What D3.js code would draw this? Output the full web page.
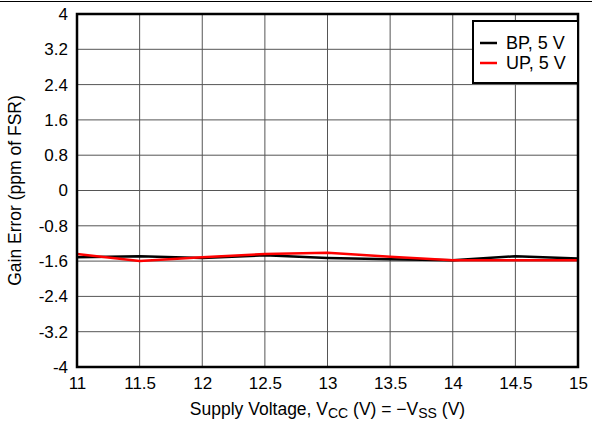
<!DOCTYPE html>
<html><head><meta charset="utf-8">
<script src="https://cdn.jsdelivr.net/npm/d3@7"></script>
<style>body{margin:0;background:#fff}svg{display:block}text{font-family:"Liberation Sans",Arial,sans-serif;fill:#000}</style>
</head><body>
<script>
const supply = [11, 11.5, 12, 12.5, 13, 13.5, 14, 14.5, 15];
const bp5 = [-1.51, -1.49, -1.53, -1.47, -1.53, -1.56, -1.58, -1.49, -1.54];
const up5 = [-1.44, -1.60, -1.51, -1.44, -1.41, -1.50, -1.58, -1.58, -1.58];
const xTicks = [11, 11.5, 12, 12.5, 13, 13.5, 14, 14.5, 15];
const yTicks = [4, 3.2, 2.4, 1.6, 0.8, 0, -0.8, -1.6, -2.4, -3.2, -4];
const seriesNames = ["BP, 5 V", "UP, 5 V"];
const seriesColors = ["#000000", "#ff0000"];

const W = 592, H = 423;
const m = {l: 77, r: 14, t: 14, b: 56};
const FONT = '"Liberation Sans",Arial,sans-serif';
const svg = d3.select("body").append("svg").attr("width", W).attr("height", H);
const x = d3.scaleLinear().domain([11, 15]).range([m.l, W - m.r]);
const y = d3.scaleLinear().domain([-4, 4]).range([H - m.b, m.t]);

svg.append("line").attr("x1", 0).attr("x2", W).attr("y1", 1.5).attr("y2", 1.5).attr("stroke", "#000").attr("stroke-width", 1);

// grid
const g = svg.append("g");
g.selectAll(".vx").data(xTicks).enter().append("line")
  .attr("x1", d => x(d)).attr("x2", d => x(d)).attr("y1", m.t).attr("y2", H - m.b)
  .attr("stroke", "#555").attr("stroke-width", 1);
g.selectAll(".hy").data(yTicks).enter().append("line")
  .attr("x1", m.l).attr("x2", W - m.r).attr("y1", d => y(d)).attr("y2", d => y(d))
  .attr("stroke", "#555").attr("stroke-width", 1);

// axes labels
const xa = svg.append("g").attr("transform", `translate(0,${H - m.b})`)
  .call(d3.axisBottom(x).tickValues(xTicks).tickSize(0).tickPadding(10).tickFormat(d => String(d)));
xa.select(".domain").remove();
xa.selectAll("text").attr("font-size", 17).attr("font-family", FONT).attr("fill", "#000");
const ya = svg.append("g").attr("transform", `translate(${m.l},0)`)
  .call(d3.axisLeft(y).tickValues(yTicks).tickSize(0).tickPadding(9).tickFormat(d => String(d)));
ya.select(".domain").remove();
ya.selectAll("text").attr("font-size", 17).attr("font-family", FONT).attr("fill", "#000");

// lines
const line = d3.line().x((d, i) => x(supply[i])).y(d => y(d));
[bp5, up5].forEach((s, k) => {
  svg.append("path").datum(s).attr("d", line).attr("fill", "none")
    .attr("stroke", seriesColors[k]).attr("stroke-width", 2.5).attr("stroke-linejoin", "round");
});

// frame
svg.append("rect").attr("x", m.l).attr("y", m.t).attr("width", W - m.r - m.l).attr("height", H - m.b - m.t)
  .attr("fill", "none").attr("stroke", "#000").attr("stroke-width", 2.5);

// legend
const lg = svg.append("g");
lg.append("rect").attr("x", 473).attr("y", 21).attr("width", W - m.r - 473).attr("height", 62)
  .attr("fill", "#fff").attr("stroke", "#000").attr("stroke-width", 2);
seriesNames.forEach((n, k) => {
  const yy = 43 + k * 20;
  lg.append("line").attr("x1", 480).attr("x2", 497).attr("y1", yy).attr("y2", yy)
    .attr("stroke", seriesColors[k]).attr("stroke-width", 2.5);
  lg.append("text").attr("x", 506).attr("y", yy + 6).attr("font-size", 18).text(n);
});

// axis titles
const xt = svg.append("text").attr("x", (m.l + W - m.r) / 2).attr("y", 415).attr("text-anchor", "middle").attr("font-size", 17.5);
xt.append("tspan").text("Supply Voltage, V");
xt.append("tspan").attr("font-size", 14).attr("dy", 3).text("CC");
xt.append("tspan").attr("dy", -3).text(" (V) = \u2212V");
xt.append("tspan").attr("font-size", 14).attr("dy", 3).text("SS");
xt.append("tspan").attr("dy", -3).text(" (V)");

svg.append("text").attr("transform", `translate(21,${(m.t + H - m.b) / 2}) rotate(-90)`)
  .attr("text-anchor", "middle").attr("font-size", 17.5).text("Gain Error (ppm of FSR)");
</script>
</body></html>
